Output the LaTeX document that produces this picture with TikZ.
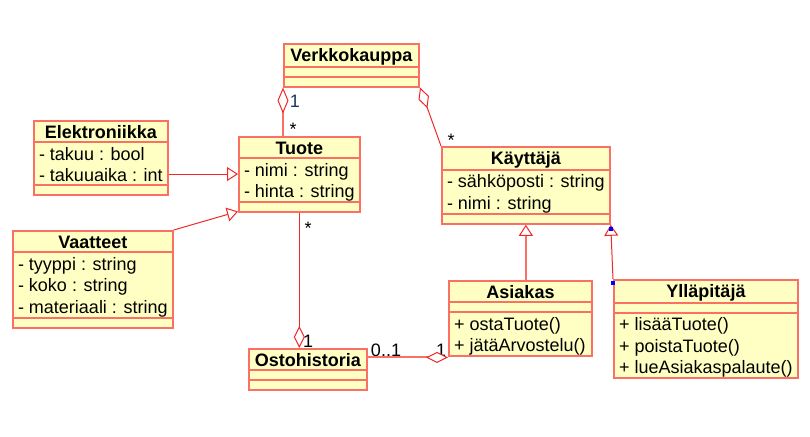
\documentclass[tikz,border=0pt]{standalone}
\usepackage{fontspec}
\setmainfont{Liberation Sans}
\usepackage{tikz}
\usetikzlibrary{shapes,arrows.meta,positioning}

\definecolor{clsborder}{RGB}{250,112,100}
\definecolor{clsfill}{RGB}{255,255,196}
\definecolor{linkred}{RGB}{240,40,40}
\definecolor{multblue}{RGB}{30,50,110}
\newcommand{\umlfont}{\fontsize{18}{21.7}\selectfont}
\newcommand{\rowstrut}{\rule[-2.4pt]{0pt}{19.2pt}}

\begin{document}
\begin{tikzpicture}[x=1pt, y=-1pt,
  umlclass/.style={rectangle split, rectangle split parts=3, draw=clsborder, fill=clsfill,
    line width=2pt, minimum width=#1, inner xsep=5pt, inner ysep=0pt,
    rectangle split part align={center,left,left},
    rectangle split empty part height=8pt, rectangle split empty part depth=0pt,
    anchor=north west, align=left, font=\umlfont},
  link/.style={draw=linkred, line width=1pt},
  linkb/.style={draw=clsborder, line width=2pt},
  gen/.style={arrows={-Triangle[length=11pt, width=14pt, fill=white, color=linkred, line width=1pt]}},
  agg/.style={arrows={Diamond[length=#1, width=11pt, fill=white, color=linkred, line width=1pt]-}},
  agg/.default=22pt,
  mlabel/.style={font=\umlfont, inner sep=0pt}]

  \useasboundingbox (0,0) rectangle (810,436);

  \node [umlclass=135pt] (verkko) at (283,43) {\rowstrut\textbf{Verkkokauppa}\nodepart{two}\nodepart{three}};
  \node [umlclass=119pt] (tuote) at (238,136) {\rowstrut\textbf{Tuote}
    \nodepart{two}\rowstrut- nimi : string\\\rowstrut- hinta : string\nodepart{three}};
  \node [umlclass=132pt] (elektro) at (33,120) {\rowstrut\textbf{Elektroniikka}
    \nodepart{two}\rowstrut- takuu : bool\\\rowstrut- takuuaika : int\nodepart{three}};
  \node [umlclass=157pt] (vaatteet) at (12,230) {\rowstrut\textbf{Vaatteet}
    \nodepart{two}\rowstrut- tyyppi : string\\\rowstrut- koko : string\\\rowstrut- materiaali : string\nodepart{three}};
  \node [umlclass=166pt] (kayttaja) at (441,146) {\rowstrut\textbf{Käyttäjä}
    \nodepart{two}\rowstrut- sähköposti : string\\\rowstrut- nimi : string\nodepart{three}};
  \node [umlclass=118pt] (osto) at (248,348) {\rowstrut\textbf{Ostohistoria}\nodepart{two}\nodepart{three}};
  \node [umlclass=143pt] (asiakas) at (448,280) {\rowstrut\textbf{Asiakas}
    \nodepart{two}\nodepart{three}\rowstrut+ ostaTuote()\\\rowstrut+ jätäArvostelu()};
  \node [umlclass=184pt] (yllapitaja) at (613,279) {\rowstrut\textbf{Ylläpitäjä}
    \nodepart{two}\nodepart{three}\rowstrut+ lisääTuote()\\\rowstrut+ poistaTuote()\\\rowstrut+ lueAsiakaspalaute()};

  % multiplicities
  \node [mlabel, text=multblue] (m1) at (295,101) {1};
  \node [mlabel] (m2) at (293,129) {*};
  \node [mlabel] (m3) at (451,140) {*};
  \node [mlabel] (m4) at (308,228) {*};
  \node [mlabel] (m5) at (308,341) {1};
  \node [mlabel] (m6) at (386,350) {0..1};
  \node [mlabel] (m7) at (441,350) {1};

  \draw [linkb, agg=26pt] (verkko.south west) -- (verkko.south west |- tuote.north);
  \draw [link, agg] (verkko.south east) -- (kayttaja.north west);
  \draw [link, gen] ([yshift=-16pt]elektro.east) -- ([yshift=-16pt]elektro.east -| tuote.west);
  \draw [link, gen] (vaatteet.north east) -- ([yshift=2pt]tuote.south west);
  \draw [link, agg] (tuote.south |- osto.north) -- (tuote.south);
  \draw [linkb, agg] (asiakas.south west) -- (asiakas.south west -| osto.east);
  \draw [linkb, gen] (asiakas.north -| kayttaja.south) -- (kayttaja.south);
  \draw [link, gen] (yllapitaja.north west) -- (kayttaja.south east);

  % selection handles
  \fill [blue] ([xshift=-2pt, yshift=-2pt]kayttaja.south east) rectangle ++(4,4);
  \fill [blue] ([xshift=-2pt, yshift=-2pt]yllapitaja.north west) rectangle ++(4,4);
\end{tikzpicture}
\end{document}
